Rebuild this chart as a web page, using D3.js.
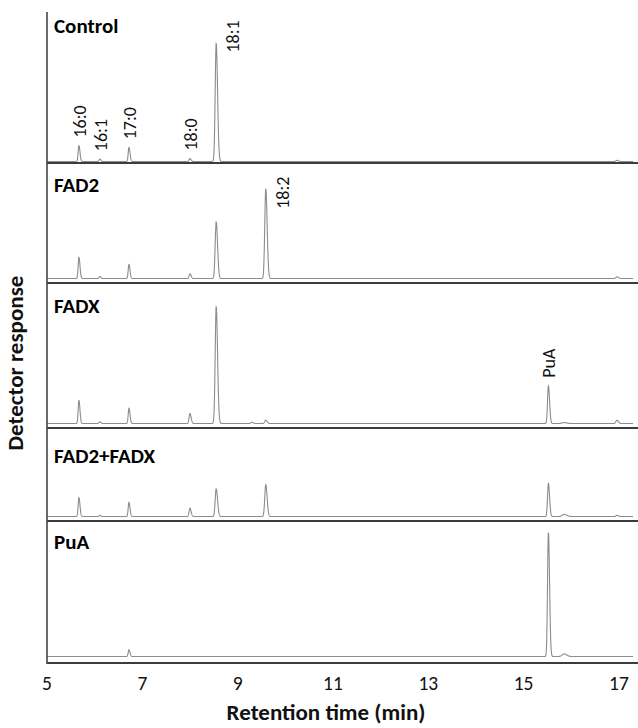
<!DOCTYPE html>
<html lang="en">
<head>
<meta charset="UTF-8">
<title>GC traces</title>
<script src="https://cdnjs.cloudflare.com/ajax/libs/d3/7.8.5/d3.min.js"></script>
<style>
    body { margin: 0; background: #fff; }
    svg { display: block; font-family: Carlito, Calibri, Lato, sans-serif; }
    .trace { fill: none; stroke: #8c8c8c; stroke-width: 1.1; }
    .sep { stroke: #3c3c3c; stroke-width: 2.2; }
    .panel-label { font-weight: bold; font-size: 21px; fill: #000; }
    .peak-label { font-size: 18px; fill: #111; }
    .tick-label { font-size: 19.5px; fill: #111; }
    .axis-title { font-weight: bold; font-size: 23px; fill: #111; }
</style>
</head>
<body>
<div id="chart"></div>
<script>
// samples, top to bottom
const samples = ["Control", "FAD2", "FADX", "FAD2+FADX", "PuA"];

// retention times (min) of the peaks seen in the traces
const peakTimes = [5.67, 6.11, 6.72, 8.0, 8.55, 9.3, 9.59, 15.52, 15.85, 16.96];

// peak heights per sample (relative detector response, Control 18:1 = 100)
const controlHeights = [13.5, 2.0, 12.0, 2.5, 100, 0, 0, 0, 0, 1.0];
const fad2Heights    = [18.0, 1.7, 12.0, 4.0, 48, 0, 76, 0, 0, 1.5];
const fadxHeights    = [19.5, 1.5, 13.0, 8.5, 99, 1.0, 2.8, 32, 0.8, 2.8];
const comboHeights   = [16.0, 1.0, 12.0, 7.0, 23.5, 0, 27, 28, 1.8, 1.0];
const puaHeights     = [0, 0, 5.7, 0, 0, 0, 0, 105, 2.2, 0];
const heights = [controlHeights, fad2Heights, fadxHeights, comboHeights, puaHeights];

// peak widths (sigma, min)
const peakWidths = [0.016, 0.016, 0.016, 0.018, 0.021, 0.022, 0.021, 0.018, 0.04, 0.022];

// annotated peaks: sample index, peak index, text
const peakLabels = [
    {sample: 0, peak: 0, text: "16:0"},
    {sample: 0, peak: 1, text: "16:1"},
    {sample: 0, peak: 2, text: "17:0"},
    {sample: 0, peak: 3, text: "18:0"},
    {sample: 0, peak: 4, text: "18:1"},
    {sample: 1, peak: 6, text: "18:2"},
    {sample: 2, peak: 7, text: "PuA"}
];

const xTicks = [5, 7, 9, 11, 13, 15, 17];

// ---- layout ----
const W = 638, H = 728;
const left = 47, right = 638;
const panelTop = [12, 163, 283, 428, 521];
const panelBottom = [163, 283, 428, 521, 663];
const baseOffset = [1.5, 4.5, 4.5, 4.5, 6.5];
const titleDy = [21, 29, 30, 35, 28];

const x = d3.scaleLinear().domain([5, 17.4]).range([left, right]);
const unit = 1.18; // px per response unit
const y = d3.scaleLinear().domain([0, 100]).range([0, 100 * unit]);

const svg = d3.select("#chart").append("svg")
    .attr("width", W)
    .attr("height", H);

const tGrid = d3.range(5.0, 17.3, 0.003);

function signal(t, hs) {
    let v = 0;
    peakTimes.forEach((rt, i) => {
        if (!hs[i]) return;
        const s = peakWidths[i];
        const d = t - rt;
        // slight tailing after the apex
        const sig = d > 0 ? s * 1.35 : s;
        v += hs[i] * Math.exp(-0.5 * (d / sig) * (d / sig));
    });
    return v;
}

samples.forEach((name, i) => {
    const base = panelBottom[i] - baseOffset[i];
    const line = d3.line()
        .x(d => x(d))
        .y(d => base - y(signal(d, heights[i])));

    svg.append("path")
        .attr("class", "trace")
        .attr("d", line(tGrid));

    svg.append("text")
        .attr("class", "panel-label")
        .attr("x", 54)
        .attr("y", panelTop[i] + titleDy[i])
        .text(name);
});

// separators between panels and bottom axis
panelBottom.forEach(b => {
    svg.append("line")
        .attr("class", "sep")
        .attr("x1", left).attr("x2", right)
        .attr("y1", b).attr("y2", b);
});

svg.append("line")
    .attr("x1", left).attr("x2", left)
    .attr("y1", panelTop[0]).attr("y2", panelBottom[4] + 1)
    .attr("stroke", "#444")
    .attr("stroke-width", 1.6);

// peak labels, rotated
peakLabels.forEach(p => {
    const base = panelBottom[p.sample] - baseOffset[p.sample];
    const h = heights[p.sample][p.peak];
    const rt = peakTimes[p.peak];
    let lx, ly;
    if (h > 60) {
        // tall peak: label sits beside the apex
        lx = x(rt) + 17;
        ly = base - y(h) + (p.sample === 0 ? 9 : 20);
    } else {
        lx = x(rt) + 1;
        ly = base - y(h) - 8;
    }
    svg.append("text")
        .attr("class", "peak-label")
        .attr("transform", `translate(${lx + 6},${ly}) rotate(-90)`)
        .text(p.text);
});

// x tick labels
svg.selectAll(".tick-label")
    .data(xTicks)
    .enter()
    .append("text")
    .attr("class", "tick-label")
    .attr("x", d => x(d))
    .attr("y", 690)
    .attr("text-anchor", "middle")
    .text(d => d);

svg.append("text")
    .attr("class", "axis-title")
    .attr("x", 326)
    .attr("y", 720)
    .attr("text-anchor", "middle")
    .text("Retention time (min)");

svg.append("text")
    .attr("class", "axis-title")
    .attr("transform", "translate(23,363) rotate(-90)")
    .attr("text-anchor", "middle")
    .text("Detector response");
</script>
</body>
</html>
